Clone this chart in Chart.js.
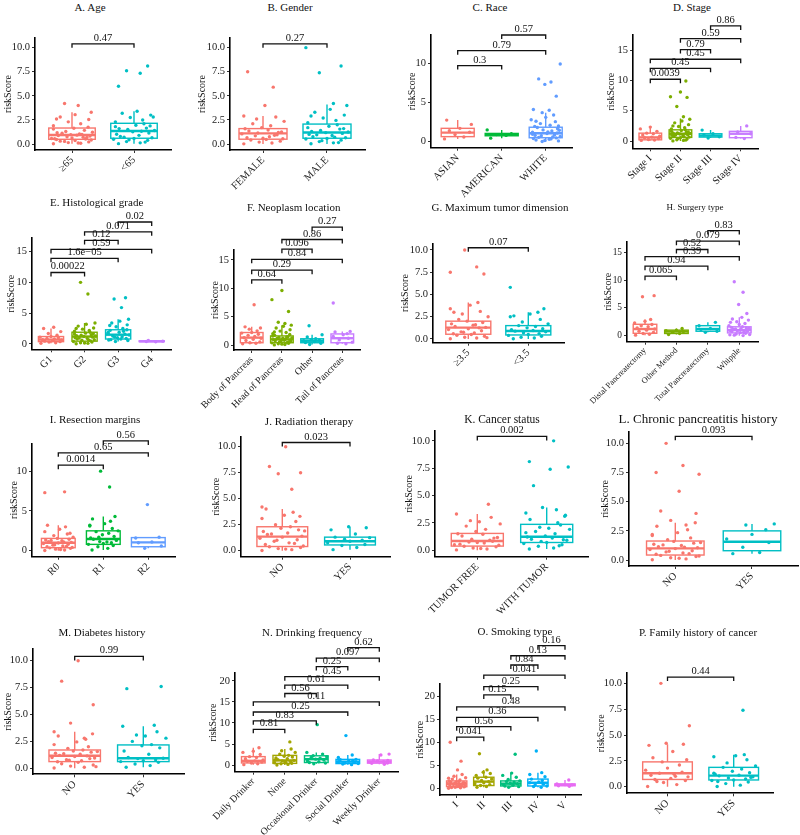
<!DOCTYPE html>
<html>
<head>
<meta charset="utf-8">
<script src="https://cdn.jsdelivr.net/npm/chart.js@4.4.0/dist/chart.umd.min.js"></script>
<style>
  body { margin: 0; background: #fff; }
  #wrap { position: relative; width: 800px; height: 835px; overflow: hidden; }
  #wrap canvas { position: absolute; }
  .ttl { position: absolute; font-family: 'Liberation Serif', serif; color: #111; white-space: nowrap; transform: translate(-50%, -50%); }
</style>
</head>
<body>
<div id="wrap"></div>
<script>
// ---- data: categories, box stats [lower whisker, q1, median, q3, upper whisker], points, p-value brackets ----
const catsA = ['≥65', '<65'];
const boxA = [[0.02, 0.49, 0.93, 1.66, 3.3], [0.02, 0.6, 1.35, 2.15, 3.4]];
const ptsA = [
  [0.03, 0.08, 0.15, 0.22, 0.3, 0.36, 0.42, 0.47, 0.1, 0.27, 0.52, 0.58, 0.63, 0.7, 0.76, 0.82, 0.88, 0.92, 0.55, 0.67, 0.97, 1.05, 1.13, 1.22, 1.3, 1.42, 1.55, 1.64, 1.0, 1.18, 1.75, 1.9, 2.1, 2.3, 2.55, 2.8, 3.05, 3.3, 2.6, 4.0, 4.2],
  [0.04, 0.12, 0.25, 0.38, 0.5, 0.58, 0.2, 0.45, 0.65, 0.78, 0.9, 1.02, 1.15, 1.28, 1.33, 0.7, 1.4, 1.52, 1.65, 1.8, 1.95, 2.1, 1.6, 1.88, 2.3, 2.5, 2.75, 3.0, 3.2, 3.4, 2.8, 6.0, 7.35, 7.6, 8.1]
];
const sigA = [[1, 2, 10.4, '0.47']];
const yTicksA = [0, 2.5, 5, 7.5, 10];

const catsB = ['FEMALE', 'MALE'];
const boxB = [[0.0, 0.5, 1.1, 1.6, 2.9], [0.0, 0.6, 1.2, 2.07, 4.1]];
const ptsB = [
  [0.02, 0.1, 0.2, 0.3, 0.42, 0.48, 0.55, 0.65, 0.75, 0.85, 0.95, 1.05, 0.6, 0.9, 1.15, 1.25, 1.35, 1.45, 1.58, 1.2, 1.7, 1.9, 2.1, 2.35, 2.6, 2.8, 2.9, 4.0, 5.9, 7.5],
  [0.03, 0.12, 0.25, 0.4, 0.52, 0.58, 0.15, 0.35, 0.65, 0.75, 0.88, 1.0, 1.1, 1.18, 0.7, 0.95, 1.25, 1.4, 1.55, 1.7, 1.85, 2.0, 1.3, 1.6, 2.2, 2.45, 2.7, 3.0, 3.3, 3.6, 4.0, 2.9, 4.2, 7.4, 8.1, 10.0]
];
const sigB = [[1, 2, 10.4, '0.27']];
const yTicksB = [0, 2.5, 5, 7.5, 10];

const catsC = ['ASIAN', 'AMERICAN', 'WHITE'];
const boxC = [[0.35, 0.64, 1.15, 1.7, 2.75], [0.45, 0.75, 0.9, 1.05, 1.5], [0.0, 0.5, 1.07, 1.84, 3.7]];
const ptsC = [
  [0.35, 0.6, 0.9, 1.2, 1.4, 1.7, 2.2, 2.75],
  [0.45, 0.8, 0.9, 1.0, 1.5],
  [0.02, 0.1, 0.2, 0.3, 0.4, 0.48, 0.15, 0.35, 0.55, 0.65, 0.75, 0.85, 0.95, 1.05, 0.6, 0.8, 1.1, 1.2, 1.35, 1.5, 1.65, 1.8, 1.25, 1.45, 1.95, 2.1, 2.3, 2.55, 2.8, 3.1, 3.4, 3.7, 2.0, 2.6, 4.0, 4.1, 5.8, 7.3, 7.6, 8.0, 9.9]
];
const sigC = [[1, 2, 9.7, '0.3'], [1, 3, 11.6, '0.79'], [2, 3, 13.6, '0.57']];
const yTicksC = [0, 5, 10];

const catsD = ['Stage I', 'Stage II', 'Stage III', 'Stage IV'];
const boxD = [[0.1, 0.2, 0.6, 1.3, 2.3], [0.0, 0.6, 1.2, 1.85, 3.7], [0.5, 0.65, 0.9, 1.2, 1.8], [0.4, 0.55, 1.2, 1.6, 2.5]];
const ptsD = [
  [0.1, 0.18, 0.25, 0.4, 0.55, 0.65, 0.8, 1.0, 1.2, 1.3, 1.6, 2.0, 2.3],
  [0.02, 0.1, 0.2, 0.32, 0.45, 0.55, 0.15, 0.4, 0.65, 0.75, 0.85, 0.95, 1.05, 1.15, 0.7, 1.0, 1.25, 1.35, 1.45, 1.6, 1.75, 1.85, 1.3, 1.5, 2.0, 2.2, 2.4, 2.7, 3.0, 3.3, 3.6, 2.5, 4.0, 5.7, 7.2, 7.3, 8.1, 9.9],
  [0.5, 0.7, 1.0, 1.2, 1.8],
  [0.4, 0.6, 1.2, 1.5, 2.5]
];
const sigD = [[1, 2, 10.2, '0.0039'], [1, 3, 12.0, '0.45'], [1, 4, 13.5, '0.45'], [2, 3, 15.1, '0.79'], [2, 4, 16.9, '0.59'], [3, 4, 19.0, '0.86']];
const yTicksD = [0, 5, 10, 15];

const catsE = ['G1', 'G2', 'G3', 'G4'];
const boxE = [[0.1, 0.37, 0.7, 1.2, 2.5], [0.0, 0.45, 1.2, 1.9, 3.4], [0.4, 0.8, 1.5, 2.3, 4.0], [0.35, 0.38, 0.42, 0.5, 0.55]];
const ptsE = [
  [0.1, 0.2, 0.3, 0.37, 0.45, 0.55, 0.65, 0.7, 0.8, 0.9, 1.0, 1.1, 1.2, 1.4, 1.7, 2.0, 2.5, 2.7],
  [0.02, 0.1, 0.2, 0.3, 0.4, 0.15, 0.5, 0.6, 0.7, 0.8, 0.9, 1.0, 1.1, 1.2, 0.65, 0.95, 1.3, 1.4, 1.5, 1.6, 1.75, 1.9, 1.35, 1.65, 2.05, 2.2, 2.4, 2.6, 2.9, 3.2, 3.4, 2.5, 8.1, 10.0],
  [0.4, 0.55, 0.7, 0.8, 0.65, 0.9, 1.0, 1.15, 1.3, 1.45, 1.1, 1.6, 1.75, 1.9, 2.05, 2.2, 2.3, 1.85, 2.5, 2.8, 3.1, 3.4, 3.7, 4.0, 3.0, 5.9, 7.3, 7.5],
  [0.35, 0.4, 0.45, 0.55]
];
const sigE = [[1, 2, 11.6, '0.00022'], [1, 3, 13.9, '1.6e\u221205'], [1, 4, 15.35, '0.59'], [2, 3, 16.8, '0.12'], [2, 4, 18.2, '0.071'], [3, 4, 19.8, '0.02']];
const yTicksE = [0, 5, 10, 15];

const catsF = ['Body of Pancreas', 'Head of Pancreas', 'Other', 'Tail of Pancreas'];
const boxF = [[0.2, 0.4, 1.3, 2.2, 3.2], [0.0, 0.4, 1.0, 1.6, 3.5], [0.1, 0.4, 0.75, 1.1, 1.8], [0.2, 0.4, 1.2, 1.95, 2.4]];
const ptsF = [
  [0.2, 0.3, 0.4, 0.55, 0.8, 1.0, 1.2, 1.3, 1.5, 1.7, 1.9, 2.1, 2.2, 2.5, 2.8, 3.0, 3.2, 7.1],
  [0.02, 0.1, 0.2, 0.3, 0.38, 0.15, 0.45, 0.55, 0.65, 0.75, 0.85, 0.95, 0.6, 0.8, 1.05, 1.15, 1.25, 1.35, 1.45, 1.58, 1.2, 1.4, 1.7, 1.85, 2.0, 2.2, 2.45, 2.7, 3.0, 3.3, 3.5, 2.3, 3.8, 4.0, 5.9, 8.0, 9.6],
  [0.1, 0.3, 0.45, 0.6, 0.75, 0.85, 1.0, 1.1, 1.4, 1.8, 3.4],
  [0.2, 0.3, 0.5, 0.9, 1.2, 1.5, 1.8, 2.0, 2.3, 2.4, 7.4]
];
const sigF = [[1, 2, 11.5, '0.64'], [1, 3, 13.2, '0.29'], [1, 4, 15.1, '0.84'], [2, 3, 16.9, '0.096'], [2, 4, 18.6, '0.86'], [3, 4, 20.8, '0.27']];
const yTicksF = [0, 5, 10, 15];

const catsG = ['≥3.5', '<3.5'];
const boxG = [[0.0, 0.53, 1.27, 2.0, 4.1], [0.0, 0.45, 0.9, 1.5, 3.0]];
const ptsG = [
  [0.02, 0.1, 0.2, 0.3, 0.42, 0.5, 0.15, 0.58, 0.68, 0.8, 0.92, 1.05, 1.15, 1.25, 0.75, 1.3, 1.4, 1.55, 1.7, 1.85, 2.0, 1.6, 2.2, 2.5, 2.8, 3.1, 3.4, 3.8, 4.1, 3.0, 7.3, 7.5, 8.1, 10.0],
  [0.02, 0.1, 0.2, 0.3, 0.4, 0.5, 0.6, 0.7, 0.8, 0.88, 0.95, 1.05, 1.15, 1.25, 1.4, 1.5, 1.7, 1.9, 2.2, 2.5, 2.8, 3.0, 2.6, 3.4, 5.8]
];
const sigG = [[1, 2, 10.25, '0.07']];
const yTicksG = [0, 2.5, 5, 7.5, 10];

const catsH = ['Distal Pancreatectomy', 'Other Method', 'Total Pancreatectomy', 'Whipple'];
const boxH = [[0.1, 0.43, 1.2, 2.05, 2.9], [0.2, 0.4, 0.75, 1.0, 1.3], [0.6, 0.8, 1.2, 1.8, 2.4], [0.0, 0.5, 1.0, 1.6, 3.3]];
const ptsH = [
  [0.1, 0.25, 0.4, 0.6, 0.8, 1.0, 1.2, 1.4, 1.6, 1.8, 2.0, 2.3, 2.6, 2.9, 7.0, 7.2],
  [0.2, 0.4, 0.6, 0.75, 0.9, 1.0, 1.3],
  [0.6, 0.8, 1.1, 1.3, 1.8, 2.4],
  [0.02, 0.1, 0.2, 0.3, 0.42, 0.15, 0.55, 0.65, 0.75, 0.85, 0.95, 0.6, 0.9, 1.05, 1.15, 1.25, 1.35, 1.5, 1.6, 1.2, 1.45, 1.8, 2.0, 2.2, 2.5, 2.8, 3.0, 3.3, 2.4, 4.0, 5.6, 7.8, 9.7]
];
const sigH = [[1, 2, 10.7, '0.065'], [1, 3, 12.5, '0.94'], [1, 4, 14.2, '0.39'], [2, 3, 15.5, '0.52'], [2, 4, 17.0, '0.079'], [3, 4, 18.9, '0.83']];
const yTicksH = [0, 5, 10, 15];

const catsI = ['R0', 'R1', 'R2'];
const boxI = [[0.0, 0.38, 1.0, 1.55, 3.2], [0.1, 0.8, 1.47, 2.5, 4.3], [0.3, 0.5, 1.05, 1.65, 1.7]];
const ptsI = [
  [0.02, 0.1, 0.2, 0.3, 0.36, 0.15, 0.42, 0.5, 0.6, 0.7, 0.8, 0.9, 0.98, 0.55, 0.75, 1.05, 1.15, 1.25, 1.35, 1.45, 1.55, 1.1, 1.3, 1.7, 1.9, 2.1, 2.4, 2.7, 3.0, 3.2, 2.2, 7.3, 7.4],
  [0.1, 0.3, 0.5, 0.65, 0.8, 0.9, 1.0, 1.15, 1.3, 1.45, 1.1, 1.6, 1.8, 2.0, 2.2, 2.4, 2.5, 1.7, 2.8, 3.1, 3.4, 3.7, 4.0, 4.3, 3.2, 8.0, 10.0],
  [0.3, 0.6, 1.0, 1.1, 1.6, 1.7, 5.8]
];
const sigI = [[1, 2, 10.75, '0.0014'], [1, 3, 12.3, '0.65'], [2, 3, 13.8, '0.56']];
const yTicksI = [0, 5, 10];

const catsJ = ['NO', 'YES'];
const boxJ = [[0.0, 0.4, 1.35, 2.3, 4.0], [0.1, 0.55, 0.9, 1.3, 2.3]];
const ptsJ = [
  [0.02, 0.1, 0.2, 0.3, 0.38, 0.15, 0.45, 0.6, 0.75, 0.9, 1.05, 1.2, 1.3, 0.7, 1.0, 1.4, 1.55, 1.7, 1.85, 2.0, 2.15, 2.3, 1.6, 1.9, 2.5, 2.8, 3.1, 3.4, 3.7, 4.0, 3.3, 4.2, 5.9, 7.4, 7.5, 8.1, 10.0],
  [0.1, 0.3, 0.5, 0.6, 0.75, 0.9, 1.0, 1.1, 1.25, 1.3, 1.6, 2.0, 2.2, 2.3]
];
const sigJ = [[1, 2, 10.4, '0.023']];
const yTicksJ = [0, 2.5, 5, 7.5, 10];

const catsK = ['TUMOR FREE', 'WITH TUMOR'];
const boxK = [[0.0, 0.37, 0.83, 1.53, 3.3], [0.1, 0.7, 1.22, 2.36, 3.9]];
const ptsK = [
  [0.02, 0.1, 0.2, 0.3, 0.36, 0.15, 0.45, 0.55, 0.65, 0.75, 0.82, 0.5, 0.7, 0.9, 1.0, 1.15, 1.3, 1.45, 1.5, 1.1, 1.7, 1.9, 2.2, 2.4, 2.7, 3.0, 3.3, 2.6, 4.2],
  [0.1, 0.2, 0.35, 0.5, 0.6, 0.7, 0.4, 0.8, 0.9, 1.0, 1.1, 1.2, 0.95, 1.3, 1.5, 1.7, 1.9, 2.1, 2.3, 1.6, 2.0, 2.5, 2.8, 3.1, 3.4, 3.7, 3.9, 3.2, 5.9, 7.4, 7.6, 8.1, 10.0]
];
const sigK = [[1, 2, 10.4, '0.002']];
const yTicksK = [0, 2.5, 5, 7.5, 10];

const catsL = ['NO', 'YES'];
const boxL = [[0.0, 0.43, 1.0, 1.63, 3.2], [0.55, 0.8, 1.57, 2.5, 3.1]];
const ptsL = [
  [0.02, 0.1, 0.2, 0.3, 0.4, 0.15, 0.35, 0.5, 0.6, 0.7, 0.8, 0.9, 0.98, 0.55, 0.75, 1.05, 1.15, 1.25, 1.35, 1.45, 1.6, 1.1, 1.3, 1.5, 1.75, 1.9, 2.1, 2.35, 2.6, 2.9, 3.2, 2.2, 3.0, 3.4, 4.0, 4.2, 5.9, 7.35, 7.5, 8.1, 10.0],
  [0.55, 0.65, 1.1, 1.5, 1.8, 2.2, 2.6, 3.0, 3.1]
];
const sigL = [[1, 2, 10.6, '0.093']];
const yTicksL = [0, 2.5, 5, 7.5, 10];

const catsM = ['NO', 'YES'];
const boxM = [[0.0, 0.62, 1.17, 1.7, 3.4], [0.1, 0.62, 0.93, 2.17, 3.9]];
const ptsM = [
  [0.02, 0.1, 0.2, 0.3, 0.42, 0.55, 0.15, 0.6, 0.7, 0.8, 0.9, 1.0, 1.1, 1.15, 0.75, 0.95, 1.2, 1.3, 1.4, 1.5, 1.6, 1.7, 1.35, 1.55, 1.85, 2.0, 2.2, 2.45, 2.7, 3.0, 3.2, 3.4, 2.8, 4.2, 5.9, 8.1, 10.0],
  [0.1, 0.25, 0.4, 0.55, 0.62, 0.7, 0.8, 0.9, 0.93, 1.0, 1.3, 1.6, 1.9, 2.1, 2.2, 2.5, 2.8, 3.1, 3.4, 3.9, 3.0, 4.0, 7.4, 7.6]
];
const sigM = [[1, 2, 10.4, '0.99']];
const yTicksM = [0, 2.5, 5, 7.5, 10];

const catsN = ['Daily Drinker', 'None', 'Occasional Drinker', 'Social Drinker', 'Weekly Drinker'];
const boxN = [[0.1, 0.5, 1.0, 2.0, 4.1], [0.0, 0.4, 1.1, 2.3, 3.8], [0.3, 0.6, 1.4, 2.2, 3.0], [0.1, 0.35, 0.8, 1.35, 2.4], [0.2, 0.45, 0.8, 1.2, 2.6]];
const ptsN = [
  [0.1, 0.3, 0.5, 0.7, 0.9, 1.0, 1.2, 1.5, 1.8, 2.0, 2.5, 3.0, 3.3, 4.1],
  [0.02, 0.15, 0.3, 0.4, 0.55, 0.7, 0.85, 1.0, 1.1, 1.3, 1.5, 1.7, 1.9, 2.1, 2.3, 2.6, 3.0, 3.4, 3.8, 1.2, 0.6, 5.5],
  [0.3, 0.5, 0.6, 0.8, 1.0, 1.2, 1.4, 1.6, 1.8, 2.0, 2.2, 2.6, 3.0, 9.6],
  [0.1, 0.25, 0.35, 0.5, 0.65, 0.8, 0.95, 1.1, 1.3, 1.35, 1.8, 2.4, 7.0],
  [0.2, 0.4, 0.5, 0.7, 0.8, 0.95, 1.1, 1.2, 2.4, 2.6]
];
const sigN = [[1, 2, 8.5, '0.81'], [1, 3, 10.5, '0.83'], [1, 4, 12.6, '0.25'], [1, 5, 15.0, '0.11'], [2, 3, 17.0, '0.56'], [2, 4, 19.0, '0.61'], [2, 5, 21.0, '0.45'], [3, 4, 23.4, '0.25'], [3, 5, 25.4, '0.097'], [4, 5, 27.9, '0.62']];
const yTicksN = [0, 5, 10, 15, 20];

const catsO = ['I', 'II', 'III', 'IV', 'V'];
const boxO = [[0.0, 0.35, 1.0, 1.6, 3.0], [0.2, 0.6, 1.45, 2.4, 4.0], [0.2, 0.5, 1.0, 1.6, 3.3], [0.2, 0.5, 1.2, 2.0, 3.4], [0.45, 0.55, 0.75, 0.95, 1.8]];
const ptsO = [
  [0.02, 0.1, 0.2, 0.3, 0.15, 0.4, 0.5, 0.6, 0.7, 0.8, 0.9, 0.98, 0.55, 0.75, 1.05, 1.15, 1.3, 1.45, 1.6, 1.2, 1.4, 1.8, 2.0, 2.3, 2.6, 3.0, 2.2, 4.0, 5.9, 10.0],
  [0.2, 0.4, 0.6, 0.8, 1.0, 1.2, 1.45, 1.7, 2.0, 2.2, 2.4, 2.8, 3.2, 3.5, 4.0, 7.5],
  [0.2, 0.35, 0.5, 0.65, 0.8, 1.0, 1.1, 1.3, 1.45, 1.6, 1.9, 2.4, 2.8, 3.3, 7.4],
  [0.2, 0.4, 0.5, 0.7, 0.9, 1.2, 1.4, 1.7, 2.0, 2.5, 3.0, 3.4, 8.1],
  [0.45, 0.55, 0.75, 0.95, 1.8]
];
const sigO = [[1, 2, 11.1, '0.041'], [1, 3, 13.4, '0.56'], [1, 4, 15.4, '0.36'], [1, 5, 17.7, '0.48'], [2, 3, 20.3, '0.15'], [2, 4, 22.1, '0.25'], [2, 5, 24.6, '0.041'], [3, 4, 26.8, '0.84'], [3, 5, 28.8, '0.13'], [4, 5, 31.0, '0.16']];
const yTicksO = [0, 5, 10, 15, 20];

const catsP = ['NO', 'YES'];
const boxP = [[0.0, 0.7, 1.3, 2.4, 4.1], [0.0, 0.65, 1.07, 1.87, 3.1]];
const ptsP = [
  [0.02, 0.2, 0.4, 0.6, 0.7, 0.8, 0.95, 1.1, 1.2, 1.3, 1.4, 1.6, 1.8, 2.1, 2.4, 2.6, 2.8, 3.4, 4.0, 4.1, 4.2, 1.0, 0.5, 5.9, 10.0],
  [0.02, 0.15, 0.3, 0.45, 0.6, 0.65, 0.75, 0.85, 0.95, 1.05, 1.1, 1.2, 1.35, 1.5, 1.7, 1.87, 2.0, 2.3, 2.6, 2.9, 3.0, 3.1, 0.5, 0.9, 1.3, 7.4]
];
const sigP = [[1, 2, 10.6, '0.44']];
const yTicksP = [0, 2.5, 5, 7.5, 10];

// ---- styling / layout ----
const HUES = {
  2: ['#F8766D', '#00BFC4'],
  3: ['#F8766D', '#00BA38', '#619CFF'],
  4: ['#F8766D', '#7CAE00', '#00BFC4', '#C77CFF'],
  5: ['#F8766D', '#A3A500', '#00BF7D', '#00B0F6', '#E76BF3']
};
const JIT = [-0.3, 0.14, -0.06, 0.27, -0.19, 0.05, 0.31, -0.25, 0.1, -0.12, 0.22, -0.33, 0.0, 0.18, -0.08, 0.29, -0.22, 0.08, -0.28, 0.24, -0.02, 0.12, -0.16, 0.33, -0.1, 0.2, -0.3, 0.03, 0.16, -0.24, 0.26];
const SERIF = "'Liberation Serif', 'Times New Roman', serif";
const ROW_TOP = [0, 195, 405, 615];
const ROW_H = [200, 215, 215, 220];

// pixel frame of each panel: l = y-axis x, c1/cn = first/last group centre, t/b = top/bottom of axes
// tfs / xfs / yfs = title, x label and y label font sizes where a panel differs
const panels = [
  { title: 'A. Age', cats: catsA, box: boxA, pts: ptsA, sig: sigA, yTicks: yTicksA, dec: 1, col: 0, row: 0, l: 35, c1: 72, cn: 134, t: 38, b: 150, yMin: -0.62, yMax: 11.0, tx: 90, ty: 7, yx: 8.3 },
  { title: 'B. Gender', cats: catsB, box: boxB, pts: ptsB, sig: sigB, yTicks: yTicksB, dec: 1, col: 1, row: 0, l: 230, c1: 263, cn: 327, t: 38, b: 150, yMin: -0.62, yMax: 11.0, tx: 290, ty: 7, yx: 202.7 },
  { title: 'C. Race', cats: catsC, box: boxC, pts: ptsC, sig: sigC, yTicks: yTicksC, dec: 0, col: 2, row: 0, l: 431, c1: 457.7, cn: 545.7, t: 35, b: 147.7, yMin: -0.77, yMax: 13.6, tx: 490, ty: 7, yx: 412.7 },
  { title: 'D. Stage', cats: catsD, box: boxD, pts: ptsD, sig: sigD, yTicks: yTicksD, dec: 0, col: 3, row: 0, l: 633, c1: 650.3, cn: 740.7, t: 35, b: 148.3, yMin: -1.2, yMax: 17.5, tx: 692, ty: 7, yx: 611.7 },
  { title: 'E. Histological grade', cats: catsE, box: boxE, pts: ptsE, sig: sigE, yTicks: yTicksE, dec: 0, col: 0, row: 1, l: 32, c1: 51, cn: 151.7, t: 238, b: 349.3, yMin: -0.87, yMax: 17.2, tx: 96.7, ty: 202, yx: 11.7 },
  { title: 'F. Neoplasm location', cats: catsF, box: boxF, pts: ptsF, sig: sigF, yTicks: yTicksF, dec: 0, col: 1, row: 1, l: 234, c1: 251.7, cn: 342.3, t: 250, b: 350, yMin: -0.88, yMax: 16.75, tx: 293.7, ty: 206.7, yx: 215, xfs: 9.8 },
  { title: 'G. Maximum tumor dimension', cats: catsG, box: boxG, pts: ptsG, sig: sigG, yTicks: yTicksG, dec: 1, col: 2, row: 1, l: 433, c1: 468.3, cn: 528.3, t: 243.3, b: 342.7, yMin: -0.42, yMax: 10.75, tx: 500, ty: 206.7, yx: 405 },
  { title: 'H. Surgery type', cats: catsH, box: boxH, pts: ptsH, sig: sigH, yTicks: yTicksH, dec: 0, col: 3, row: 1, l: 627, c1: 645, cn: 739.3, t: 241.7, b: 341.7, yMin: -1.08, yMax: 16.9, tx: 695, ty: 206.7, yx: 608.3, tfs: 9, xfs: 8.4, yfs: 9.4 },
  { title: 'I. Resection margins', cats: catsI, box: boxI, pts: ptsI, sig: sigI, yTicks: yTicksI, dec: 0, col: 0, row: 2, l: 32, c1: 58.3, cn: 148.3, t: 443.3, b: 556.7, yMin: -0.75, yMax: 13.5, tx: 95, ty: 419, yx: 14 },
  { title: 'J. Radiation therapy', cats: catsJ, box: boxJ, pts: ptsJ, sig: sigJ, yTicks: yTicksJ, dec: 1, col: 1, row: 2, l: 241, c1: 282.3, cn: 350, t: 436.7, b: 556.7, yMin: -0.58, yMax: 10.96, tx: 309, ty: 420.7, yx: 216 },
  { title: 'K. Cancer status', cats: catsK, box: boxK, pts: ptsK, sig: sigK, yTicks: yTicksK, dec: 1, col: 2, row: 2, l: 435, c1: 477.3, cn: 546.7, t: 431, b: 556.7, yMin: -0.6, yMax: 10.9, tx: 502, ty: 419, yx: 409.3, tfs: 11.5 },
  { title: 'L. Chronic pancreatitis history', cats: catsL, box: boxL, pts: ptsL, sig: sigL, yTicks: yTicksL, dec: 1, col: 3, row: 2, l: 629, c1: 675.3, cn: 752, t: 431.7, b: 566, yMin: -0.51, yMax: 11.0, tx: 698, ty: 419, yx: 605, tfs: 13 },
  { title: 'M. Diabetes history', cats: catsM, box: boxM, pts: ptsM, sig: sigM, yTicks: yTicksM, dec: 1, col: 0, row: 3, l: 33, c1: 74.7, cn: 143.3, t: 649.3, b: 774.3, yMin: -0.56, yMax: 11.06, tx: 102, ty: 631.7, yx: 8.3 },
  { title: 'N. Drinking frequency', cats: catsN, box: boxN, pts: ptsN, sig: sigN, yTicks: yTicksN, dec: 0, col: 1, row: 3, l: 235, c1: 253.3, cn: 379.3, t: 673.3, b: 771.7, yMin: -1.58, yMax: 21.8, tx: 312, ty: 631.7, yx: 213.3, xfs: 9.8 },
  { title: 'O. Smoking type', cats: catsO, box: boxO, pts: ptsO, sig: sigO, yTicks: yTicksO, dec: 0, col: 2, row: 3, l: 440, c1: 456.7, cn: 565, t: 684.3, b: 795, yMin: -1.46, yMax: 22.6, tx: 515, ty: 630.7, yx: 420 },
  { title: 'P. Family history of cancer', cats: catsP, box: boxP, pts: ptsP, sig: sigP, yTicks: yTicksP, dec: 1, col: 3, row: 3, l: 627, c1: 667.5, cn: 733.7, t: 673.3, b: 793.3, yMin: -0.64, yMax: 10.97, tx: 698, ty: 631.7, yx: 601.7 }
];

// draws boxes under the points and p-value brackets on top, all through the chart scales
function boxPlugin(p, colors) {
  return {
    id: 'boxes',
    beforeDatasetsDraw(chart) {
      const { ctx, scales: { x, y } } = chart;
      ctx.save();
      p.box.forEach(([lo, q1, med, q3, hi], i) => {
        const xl = x.getPixelForValue(i + 1 - 0.375);
        const xr = x.getPixelForValue(i + 1 + 0.375);
        const xm = x.getPixelForValue(i + 1);
        ctx.strokeStyle = colors[i];
        ctx.lineWidth = 1.4;
        ctx.beginPath();
        ctx.moveTo(xm, y.getPixelForValue(hi)); ctx.lineTo(xm, y.getPixelForValue(q3));
        ctx.moveTo(xm, y.getPixelForValue(q1)); ctx.lineTo(xm, y.getPixelForValue(lo));
        ctx.stroke();
        const yt = y.getPixelForValue(q3), yb = y.getPixelForValue(q1);
        ctx.fillStyle = '#fff';
        ctx.fillRect(xl, yt, xr - xl, yb - yt);
        ctx.strokeRect(xl, yt, xr - xl, yb - yt);
        ctx.lineWidth = 2.4;
        ctx.beginPath();
        ctx.moveTo(xl, y.getPixelForValue(med)); ctx.lineTo(xr, y.getPixelForValue(med));
        ctx.stroke();
      });
      ctx.restore();
    },
    afterDraw(chart) {
      const { ctx, scales: { x, y } } = chart;
      ctx.save();
      ctx.strokeStyle = '#111';
      ctx.lineWidth = 1.3;
      ctx.fillStyle = '#111';
      ctx.font = '10.5px ' + SERIF;
      ctx.textAlign = 'center';
      ctx.textBaseline = 'bottom';
      p.sig.forEach(([a, b, v, label]) => {
        const xa = x.getPixelForValue(a), xb = x.getPixelForValue(b), yy = y.getPixelForValue(v);
        ctx.beginPath();
        ctx.moveTo(xa, yy + 4); ctx.lineTo(xa, yy); ctx.lineTo(xb, yy); ctx.lineTo(xb, yy + 4);
        ctx.stroke();
        ctx.fillText(label, (xa + xb) / 2, yy - 0.5);
      });
      ctx.restore();
    }
  };
}

const wrap = document.getElementById('wrap');

panels.forEach(p => {
  const n = p.cats.length;
  const colors = HUES[n];
  const s = (p.cn - p.c1) / (n - 1);
  const xMin = 1 - (p.c1 - p.l) / s;
  const xMax = n + 0.6;
  const r = p.cn + 0.6 * s;
  const cLeft = p.col * 200 - 30;
  const cTop = ROW_TOP[p.row];
  const cW = 240, cH = ROW_H[p.row];
  const yBoxLeft = p.yx - 10;

  const title = document.createElement('div');
  title.className = 'ttl';
  title.style.left = p.tx + 'px';
  title.style.top = p.ty + 'px';
  title.style.fontSize = (p.tfs || 11) + 'px';
  title.textContent = p.title;
  wrap.appendChild(title);

  const canvas = document.createElement('canvas');
  canvas.width = cW; canvas.height = cH;
  canvas.style.left = cLeft + 'px';
  canvas.style.top = cTop + 'px';
  wrap.appendChild(canvas);

  new Chart(canvas, {
    type: 'scatter',
    data: {
      datasets: p.pts.map((vals, i) => ({
        data: vals.map((v, k) => ({ x: i + 1 + JIT[(k + i * 7) % JIT.length], y: v })),
        backgroundColor: colors[i],
        borderWidth: 0,
        pointRadius: 1.7,
        pointHoverRadius: 1.7,
        clip: false
      }))
    },
    options: {
      responsive: false,
      animation: false,
      events: [],
      layout: {
        padding: { left: yBoxLeft - cLeft, right: cLeft + cW - r, top: p.t - cTop, bottom: 0 }
      },
      plugins: { legend: { display: false }, tooltip: { enabled: false } },
      scales: {
        x: {
          type: 'linear', min: xMin, max: xMax, bounds: 'data',
          afterBuildTicks: ax => { ax.ticks = p.cats.map((c, i) => ({ value: i + 1 })); },
          afterFit: ax => { ax.height = cTop + cH - p.b; },
          grid: { display: true, drawOnChartArea: false, drawTicks: true, tickLength: 3, color: '#333' },
          border: { display: true, color: '#000', width: 1.6 },
          ticks: {
            autoSkip: false, minRotation: 45, maxRotation: 45, padding: 1,
            color: '#1a1a1a', font: { family: SERIF, size: p.xfs || 10.5 },
            callback: v => p.cats[Math.round(v) - 1]
          }
        },
        y: {
          type: 'linear', min: p.yMin, max: p.yMax, bounds: 'data',
          afterBuildTicks: ax => { ax.ticks = p.yTicks.map(v => ({ value: v })); },
          afterFit: ax => { ax.width = p.l - yBoxLeft; },
          grid: { display: true, drawOnChartArea: false, drawTicks: true, tickLength: 3, color: '#333' },
          border: { display: true, color: '#000', width: 1.6 },
          title: { display: true, text: 'riskScore', color: '#111', padding: { top: 4, bottom: 4 }, font: { family: SERIF, size: 10 } },
          ticks: {
            padding: 2, color: '#1a1a1a', font: { family: SERIF, size: p.yfs || 10.5 },
            callback: v => v.toFixed(p.dec)
          }
        }
      }
    },
    plugins: [boxPlugin(p, colors)]
  });
});
</script>
</body>
</html>
